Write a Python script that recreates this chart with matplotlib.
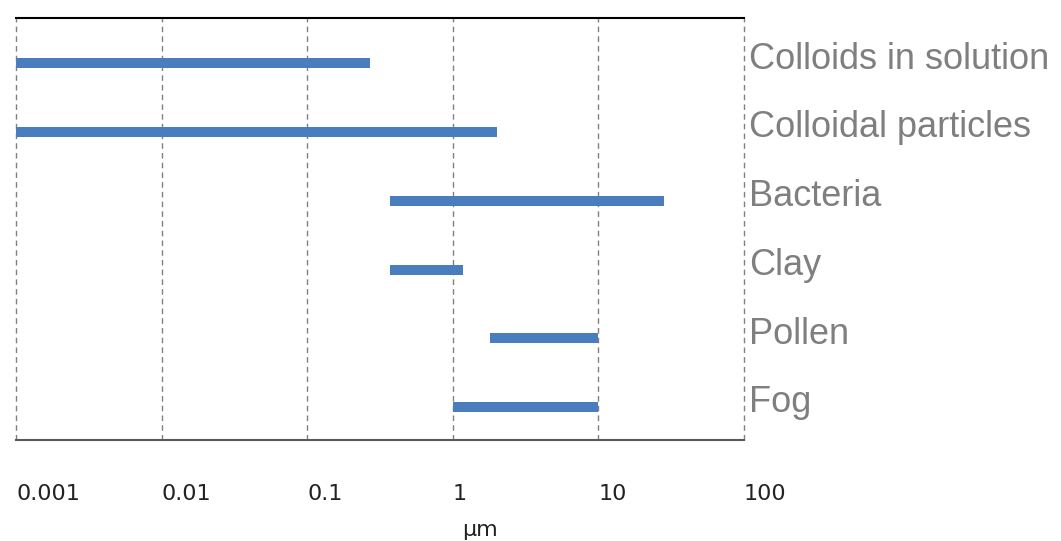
import matplotlib
matplotlib.use("Agg")
import matplotlib.pyplot as plt
import matplotlib.ticker as mticker
import numpy as np

# size ranges in micrometres
categories = ["Colloids in solution", "Colloidal particles", "Bacteria", "Clay", "Pollen", "Fog"]
size_min = [0.001, 0.001, 0.37, 0.37, 1.8, 1.0]
size_max = [0.27, 2.0, 28.0, 1.17, 10.0, 10.0]
tick_values = [0.001, 0.01, 0.1, 1, 10, 100]
tick_labels = ["0.001", "0.01", "0.1", "1", "10", "100"]

fig = plt.figure(figsize=(10.61, 5.41), dpi=100)
ax = fig.add_axes([16 / 1061, 101 / 541, 728 / 1061, 422 / 541])

ypos = np.arange(len(categories))
widths = np.array(size_max) - np.array(size_min)
ax.barh(ypos, widths, left=size_min, height=0.145, color="#4a7dbd", zorder=3)

ax.set_xscale("log")
ax.set_xlim(tick_values[0], tick_values[-1])
ax.set_ylim(5.48, -0.66)

ax.xaxis.set_major_locator(mticker.FixedLocator(tick_values))
ax.xaxis.set_minor_locator(mticker.NullLocator())
ax.set_xticklabels(tick_labels, ha="left", fontsize=16, color="#222222")
ax.tick_params(axis="x", length=0, pad=32)
ax.set_yticks([])

ax.grid(axis="x", which="major", color="#808080", lw=1, ls=(0, (4, 3)), zorder=1)
for gl in ax.get_xgridlines():
    gl.set_clip_on(False)

for s in ["left", "right"]:
    ax.spines[s].set_visible(False)
ax.spines["top"].set_color("black")
ax.spines["top"].set_linewidth(1.5)
ax.spines["bottom"].set_color("#595959")
ax.spines["bottom"].set_linewidth(1.5)

for i, name in enumerate(categories):
    ax.text(1.007, i - 0.06, name, transform=ax.get_yaxis_transform(),
            ha="left", va="center", fontsize=26, color="#7f7f7f",
            family="Liberation Sans")

ax.set_xlabel("µm", fontsize=16, color="#222222")
ax.xaxis.set_label_coords((480 - 16) / 728, -0.19)

fig.savefig("out.png", dpi=100)
